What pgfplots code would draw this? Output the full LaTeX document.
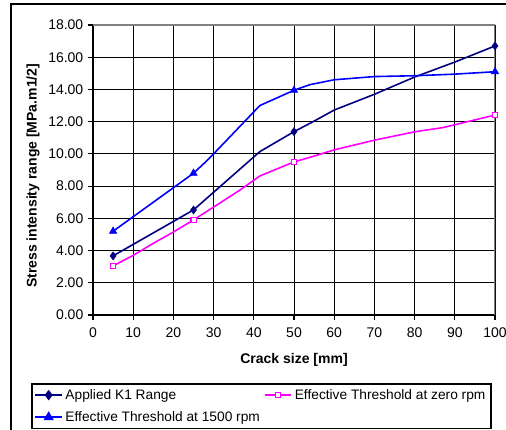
\documentclass[border=0pt]{standalone}
\usepackage{pgfplots}
\pgfplotsset{compat=1.18}
\usepackage{fontspec}
\setmainfont{Liberation Sans}
\definecolor{knavy}{RGB}{0,0,128}
\definecolor{kblue}{RGB}{0,0,255}
\definecolor{kpink}{RGB}{255,0,255}
\definecolor{kgray}{RGB}{128,128,128}
\begin{document}
\begin{tikzpicture}
\useasboundingbox (0,0) rectangle (379.5pt,321.75pt);
\draw[line width=1.3pt] (8.25pt,-5pt) -- (8.25pt,318.75pt) -- (390pt,318.75pt);
\begin{axis}[
  at={(69.75pt,85.5pt)}, anchor=south west,
  scale only axis, width=301.5pt, height=217.5pt,
  xmin=0, xmax=100, ymin=0, ymax=18,
  xtick={0,10,...,100}, ytick={0,2,...,18},
  axis lines*=left,
  axis line style={black, line width=1pt},
  tick align=outside, major tick length=3.75pt,
  tick style={black, line width=0.8pt},
  grid=major, major grid style={black, line width=0.6pt},
  /pgf/number format/assume math mode=true,
  tick label style={font=\fontsize{10.5}{12}\selectfont},
  yticklabel style={/pgf/number format/.cd, fixed, fixed zerofill, precision=2},
  xticklabel style={yshift=-2pt},
  xlabel={Crack size [mm]},
  ylabel={Stress intensity range [MPa.m1/2]},
  every axis x label/.style={at={(axis description cs:0.5,-0.155)}, anchor=center, font=\bfseries\fontsize{10.5}{12}\selectfont},
  every axis y label/.style={at={(axis description cs:-0.149,0.48)}, anchor=center, rotate=90, font=\bfseries\fontsize{10.5}{12}\selectfont},
  legend columns=2,
  legend cell align=left,
  legend style={at={(axis description cs:-0.154,-0.2345)}, anchor=north west,
    draw=black, line width=1.2pt, font=\fontsize{10.3}{12}\selectfont,
    inner xsep=2pt, inner ysep=2pt, row sep=3.5pt,
    /tikz/every even column/.append style={column sep=1pt}},
  legend image code/.code={\draw[mark repeat=2,mark phase=2,#1] plot coordinates {(0pt,0pt) (10pt,0pt) (20pt,0pt)};},
]
% Applied K1 Range
\addplot[knavy, line width=1.2pt, forget plot] table {
x y
5 3.67
25 6.52
41.5 10.14
50 11.38
54 11.9
60 12.72
70 13.7
80 14.77
90 15.7
100 16.7
};
\addplot[knavy, only marks, mark=diamond*, mark size=3pt, forget plot] table {
x y
5 3.67
25 6.52
50 11.38
100 16.7
};
% Effective threshold at zero rpm
\addplot[kpink, line width=1.2pt, forget plot] table {
x y
5 3.05
10 3.7
15 4.45
20 5.15
25 5.9
30 6.7
36.6 7.76
41.5 8.63
50 9.5
54 9.79
60 10.25
70 10.85
80 11.37
87 11.63
100 12.41
};
\addplot[kpink, only marks, mark=square*, mark size=2pt, mark options={fill=white, line width=1pt}, forget plot] table {
x y
5 3.05
25 5.9
50 9.5
100 12.41
};
% Effective threshold at 1500 rpm
\addplot[kblue, line width=1.2pt, forget plot] table {
x y
5 5.2
25 8.8
28 9.5
30 10.0
41.5 13.0
50 13.95
54 14.3
60 14.6
70 14.8
80 14.85
90 14.95
100 15.1
};
\addplot[kblue, only marks, mark=triangle*, mark size=3.2pt, forget plot] table {
x y
5 5.2
25 8.8
50 13.95
100 15.1
};
\draw[kgray, line width=1.3pt] (rel axis cs:0,1) -- (rel axis cs:1,1) -- (rel axis cs:1,0);
\addlegendimage{knavy, line width=1.2pt, mark=diamond*, mark size=3pt}
\addlegendentry{Applied K1 Range}
\addlegendimage{kpink, line width=1.2pt, mark=square*, mark size=2pt, mark options={fill=white, line width=1pt}}
\addlegendentry{Effective Threshold at zero rpm}
\addlegendimage{kblue, line width=1.2pt, mark=triangle*, mark size=3.2pt}
\addlegendentry{Effective Threshold at 1500 rpm}
\end{axis}
\end{tikzpicture}
\end{document}
